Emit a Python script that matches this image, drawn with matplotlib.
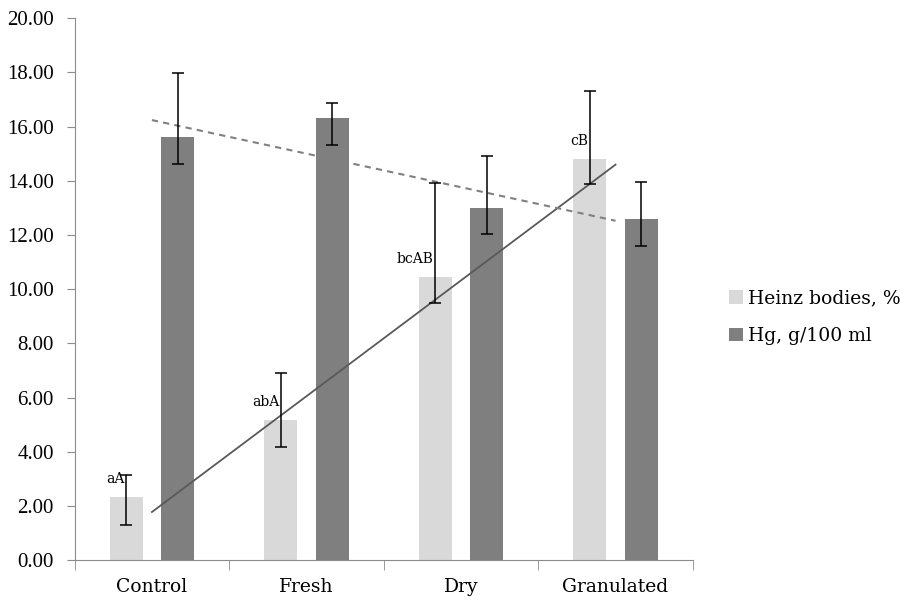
import numpy as np
import matplotlib.pyplot as plt
from matplotlib import rcParams

rcParams['font.family'] = ['DejaVu Serif']
rcParams['font.size'] = 13

# data
groups = ['Control', 'Fresh', 'Dry', 'Granulated']
heinz = [2.32, 5.17, 10.45, 14.80]
heinz_lo = [1.02, 0.99, 0.96, 0.93]
heinz_hi = [0.82, 1.72, 3.47, 2.52]
hg = [15.62, 16.30, 13.01, 12.59]
hg_lo = [1.01, 0.99, 0.99, 0.99]
hg_hi = [2.34, 0.57, 1.91, 1.35]
letters = ['aA', 'abA', 'bcAB', 'cB']

light = '#d9d9d9'
dark = '#7f7f7f'
axis_col = '#8c8c8c'

x = np.arange(len(groups))
off = 0.167
w = 0.214

fig = plt.figure(figsize=(9.05, 6.03), dpi=100)
ax = fig.add_axes([0.0825, 0.071, 0.683, 0.899])

ax.bar(x - off, heinz, w, color=light, label='Heinz bodies, %', zorder=2)
ax.bar(x + off, hg, w, color=dark, label='Hg, g/100 ml', zorder=2)
ax.errorbar(x - off, heinz, yerr=[heinz_lo, heinz_hi], fmt='none',
            ecolor='black', elinewidth=1.1, capsize=4, capthick=1.1, zorder=4)
ax.errorbar(x + off, hg, yerr=[hg_lo, hg_hi], fmt='none',
            ecolor='black', elinewidth=1.1, capsize=4, capthick=1.1, zorder=4)

# linear trendlines
k1, b1 = np.polyfit(x, heinz, 1)
k2, b2 = np.polyfit(x, hg, 1)
ax.plot(x[[0, -1]], k1 * x[[0, -1]] + b1, color='#595959', lw=1.3, zorder=3)
ax.plot(x[[0, -1]], k2 * x[[0, -1]] + b2, color='#808080', lw=1.5,
        ls=(0, (3, 2.5)), zorder=3)

for xi, v, t in zip(x, heinz, letters):
    ax.annotate(t, (xi - off, v), xytext=(-1, 8), textcoords='offset points',
                ha='right', va='bottom', fontsize=10)

ax.set_xlim(-0.5, 3.5)
ax.set_ylim(0, 20)
yt = np.arange(0, 21, 2)
ax.set_yticks(yt)
ax.set_yticklabels([f'{v:.2f}' for v in yt], family='Liberation Serif', fontsize=15)
ax.set_xticks(x)
ax.set_xticklabels(groups, fontsize=13.5)
ax.set_xticks(np.arange(-0.5, 4, 1), minor=True)
ax.tick_params(axis='x', which='major', length=0, pad=13)
ax.tick_params(axis='x', which='minor', length=7, color=axis_col)
ax.tick_params(axis='y', length=6, color=axis_col, pad=9)
for s in ['top', 'right']:
    ax.spines[s].set_visible(False)
for s in ['left', 'bottom']:
    ax.spines[s].set_color(axis_col)

fig.legend(loc='center left', bbox_to_anchor=(0.805, 0.474), frameon=False,
           handlelength=0.75, handleheight=0.75, handletextpad=0.3,
           labelspacing=1.05, fontsize=13.5, borderaxespad=0, borderpad=0)

fig.savefig('out.png', dpi=100)
